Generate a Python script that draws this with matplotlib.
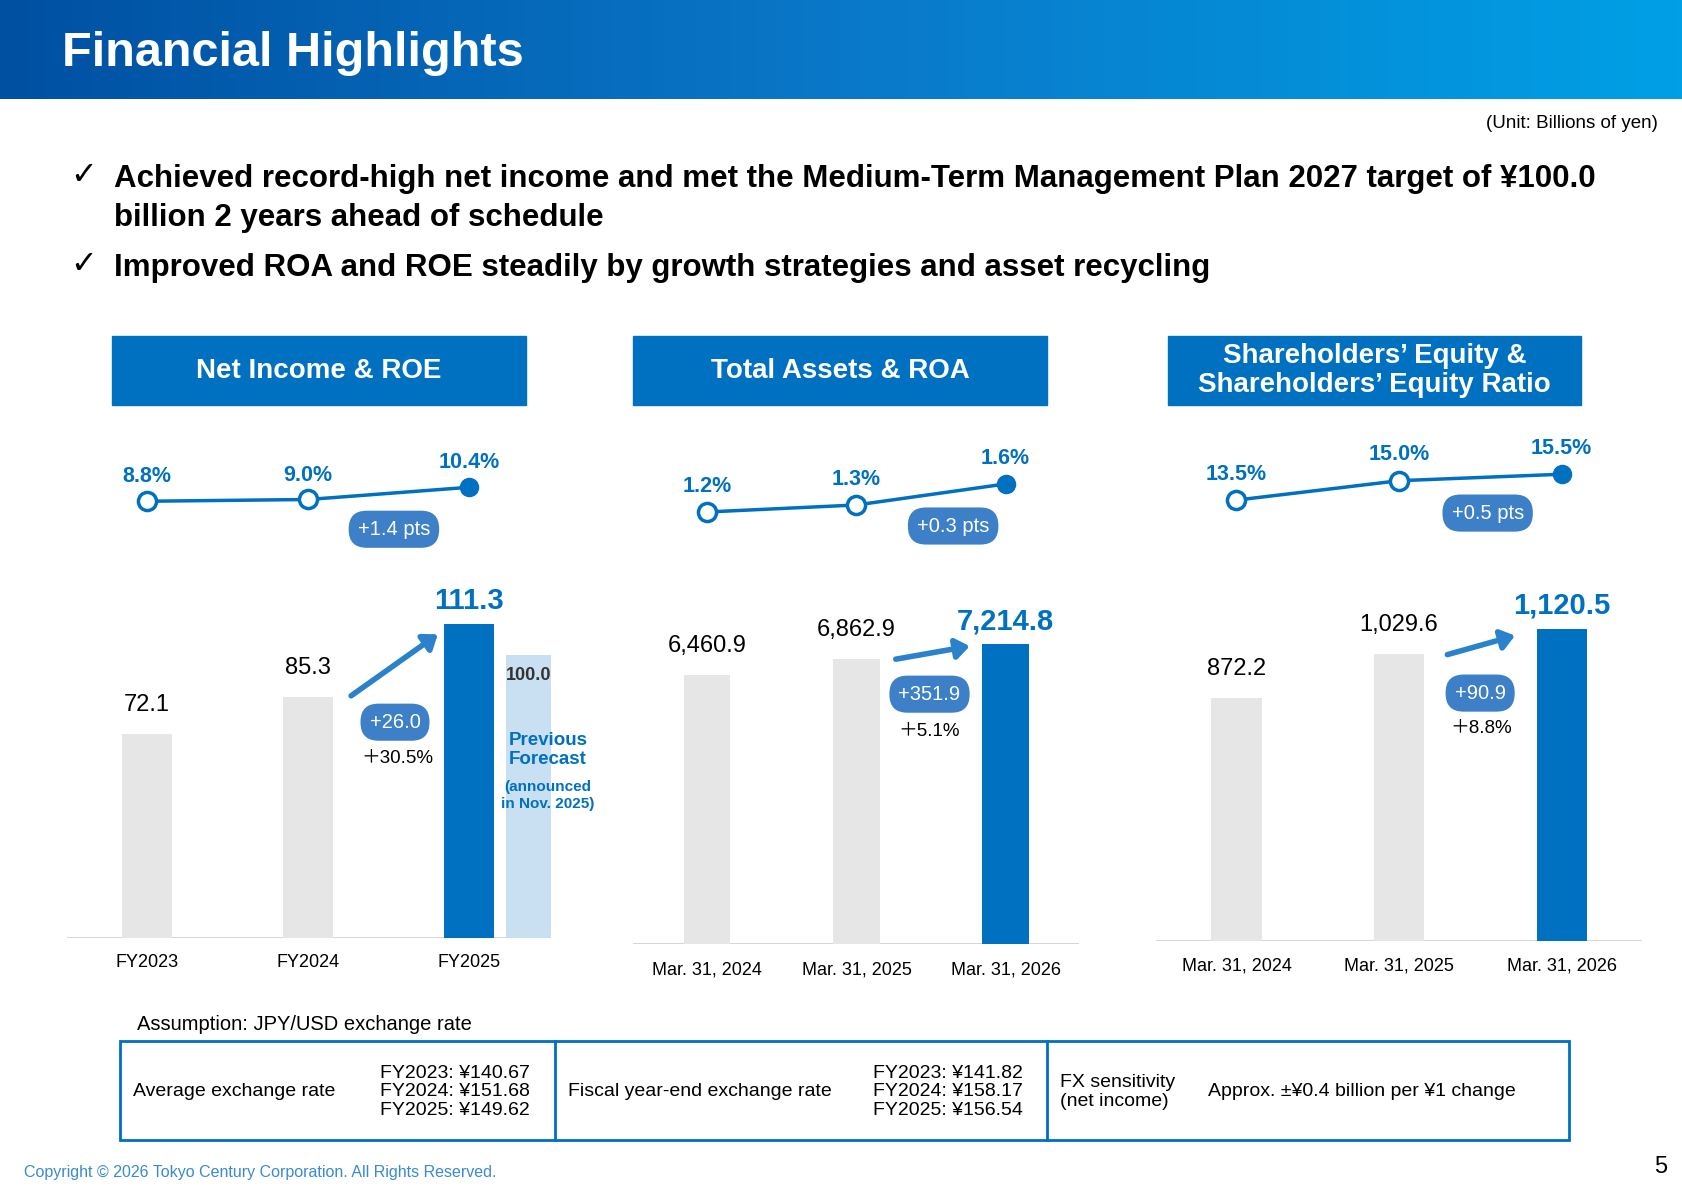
import numpy as np
import matplotlib
matplotlib.use('Agg')
import matplotlib.pyplot as plt
from matplotlib.patches import Rectangle, FancyArrowPatch

plt.rcParams['font.family'] = ['Liberation Sans', 'DejaVu Sans', 'Noto Sans CJK JP']

# data
ni_labels = ['FY2023', 'FY2024', 'FY2025']
ni_vals = [72.1, 85.3, 111.3]
ni_forecast = 100.0
roe = [8.8, 9.0, 10.4]

ta_labels = ['Mar. 31, 2024', 'Mar. 31, 2025', 'Mar. 31, 2026']
ta_vals = [6460.9, 6862.9, 7214.8]
roa = [1.2, 1.3, 1.6]

se_labels = ['Mar. 31, 2024', 'Mar. 31, 2025', 'Mar. 31, 2026']
se_vals = [872.2, 1029.6, 1120.5]
ser = [13.5, 15.0, 15.5]

W, H = 1568, 1104
BLUE = '#0070c0'
GREY = '#e6e6e6'
PILL = '#3d80c8'

fig = plt.figure(figsize=(16.83, 11.90), dpi=100)
bg = fig.add_axes([0, 0, 1, 1])
bg.axis('off')

# header gradient
grad = np.linspace(0, 1, 256).reshape(1, -1)
cmap = matplotlib.colors.LinearSegmentedColormap.from_list('h', ['#0050a2', '#0a78c8', '#00a0e6'])
bg.imshow(grad, extent=[0, W, 92, 0], aspect='auto', cmap=cmap, zorder=0)
bg.set_xlim(0, W)
bg.set_ylim(H, 0)
bg.text(58, 50, 'Financial Highlights', color='white', fontsize=35, fontweight='bold', va='center')
bg.text(1545, 115, '(Unit: Billions of yen)', fontsize=13.5, ha='right', va='center')

bg.text(65, 163, '✓', fontsize=23, va='center', family='DejaVu Sans')
bg.text(106, 166, 'Achieved record-high net income and met the Medium-Term Management Plan 2027 target of ¥100.0',
        fontsize=22.5, fontweight='bold', va='center')
bg.text(106, 202, 'billion 2 years ahead of schedule', fontsize=22.5, fontweight='bold', va='center')
bg.text(65, 245, '✓', fontsize=23, va='center', family='DejaVu Sans')
bg.text(106, 249, 'Improved ROA and ROE steadily by growth strategies and asset recycling',
        fontsize=22.5, fontweight='bold', va='center')


def px_axes(x0, x1, y_top, y_bot):
    return fig.add_axes([x0 / W, 1 - y_bot / H, (x1 - x0) / W, (y_bot - y_top) / H])


def title_box(x0, x1, y0, y1, text):
    bg.add_patch(Rectangle((x0, y0), x1 - x0, y1 - y0, color=BLUE, zorder=2))
    bg.text((x0 + x1) / 2, (y0 + y1) / 2, text, color='white', fontsize=20, fontweight='bold',
            ha='center', va='center', zorder=3, linespacing=1.15)


def pill(x, y, text):
    bg.text(x, y, text, color='white', fontsize=14.5, ha='center', va='center', zorder=6,
            bbox=dict(boxstyle='round,pad=0.45,rounding_size=0.9', fc=PILL, ec='none'))


def panel(x0, x1, base, top, xlim, ylim, vals, labels, valfmt, ly, lylim, lvals, loff):
    ax = px_axes(x0, x1, top, base)
    ax.set_xlim(*xlim)
    ax.set_ylim(*ylim)
    ax.axis('off')
    cols = [GREY, GREY, BLUE]
    ax.bar(range(3), vals, width=0.31, color=cols, zorder=2)
    for i, v in enumerate(vals):
        if i < 2:
            ax.text(i, v + ylim[1] * 0.05, valfmt.format(v), ha='center', va='bottom', fontsize=17)
        else:
            ax.text(i, v + ylim[1] * 0.025, valfmt.format(v), ha='center', va='bottom', fontsize=21,
                    color=BLUE, fontweight='bold')
    for i, l in enumerate(labels):
        ax.text(i, -ylim[1] * 0.07, l, ha='center', va='center', fontsize=13)
    la = px_axes(x0, x1, ly[0], ly[1])
    la.set_xlim(*xlim)
    la.set_ylim(*lylim)
    la.axis('off')
    la.plot(range(3), lvals, color=BLUE, lw=2.5, zorder=2)
    la.scatter([0, 1], lvals[:2], s=170, facecolor='white', edgecolor=BLUE, lw=2.5, zorder=3)
    la.scatter([2], lvals[2:], s=170, color=BLUE, zorder=3)
    for i, v in enumerate(lvals):
        la.text(i, v + loff, f'{v:.1f}%', ha='center', va='bottom', fontsize=15.5,
                fontweight='bold', color=BLUE, clip_on=False)
    return ax, la


# panel 1
title_box(104, 490, 312, 376, 'Net Income & ROE')
ax1, la1 = panel(62, 515, 870, 540, (-0.5, 2.52), (0, 126), ni_vals, ni_labels, '{:.1f}',
                 (440, 480), (6.95, 11.89), roe, 1.6)
ax1.axhline(0, xmax=0.94, color='#d0d0d0', lw=1.2, zorder=1)
ax1.bar(2.37, ni_forecast, width=0.28, color='#c9e0f2', zorder=1)
ax1.text(2.37, ni_forecast - 4, f'{ni_forecast:.1f}', ha='center', va='top', fontsize=13,
         fontweight='bold', color='#333333', zorder=10)
ax1.text(2.49, 73, 'Previous\nForecast', ha='center', va='top', fontsize=13.5, fontweight='bold',
         color=BLUE, linespacing=1.2, zorder=10)
ax1.text(2.49, 56, '(announced\nin Nov. 2025)', ha='center', va='top', fontsize=11,
         fontweight='bold', color=BLUE, linespacing=1.3, zorder=10)

# panel 2
title_box(590, 975, 312, 376, 'Total Assets & ROA')
ax2, la2 = panel(590, 1005, 876, 540, (-0.496, 2.49), (0, 8705), ta_vals, ta_labels, '{:,.1f}',
                 (440, 485), (1.046, 1.738), roa, 0.22)
ax2.axhline(0, color='#d0d0d0', lw=1.2, zorder=1)

# panel 3
title_box(1088, 1473, 312, 376, 'Shareholders’ Equity &\nShareholders’ Equity Ratio')
ax3, la3 = panel(1077, 1530, 873, 540, (-0.495, 2.495), (0, 1287), se_vals, se_labels, '{:,.1f}',
                 (430, 475), (12.58, 16.33), ser, 1.2)
ax3.axhline(0, color='#d0d0d0', lw=1.2, zorder=1)

# growth arrows and pills
for (xa, ya, xb, yb) in [(325, 647, 410, 587), (832, 612, 906, 599), (1346, 608, 1414, 589)]:
    bg.add_patch(FancyArrowPatch((xa, ya), (xb, yb), arrowstyle='-|>,head_length=8,head_width=6',
                                 lw=4, color='#2a82cc', zorder=5))
pill(367, 491, '+1.4 pts')
pill(888, 488, '+0.3 pts')
pill(1386, 476, '+0.5 pts')
pill(368, 670, '+26.0')
bg.text(370, 704, '＋30.5%', ha='center', va='center', fontsize=13.5)
pill(866, 644, '+351.9')
bg.text(866, 679, '＋5.1%', ha='center', va='center', fontsize=13.5)
pill(1379, 643, '+90.9')
bg.text(1380, 676, '＋8.8%', ha='center', va='center', fontsize=13.5)

# exchange rate table
bg.text(128, 950, 'Assumption: JPY/USD exchange rate', fontsize=14.5, va='center')
bg.add_patch(Rectangle((112, 966), 1350, 92, fill=False, ec=BLUE, lw=2))
for xd in [517, 975]:
    bg.plot([xd, xd], [966, 1058], color=BLUE, lw=2)
bg.text(124, 1013, 'Average exchange rate', fontsize=14, va='center')
bg.text(494, 1013, 'FY2023: ¥140.67\nFY2024: ¥151.68\nFY2025: ¥149.62', fontsize=14,
        va='center', ha='right', linespacing=1.1)
bg.text(529, 1013, 'Fiscal year-end exchange rate', fontsize=14, va='center')
bg.text(953, 1013, 'FY2023: ¥141.82\nFY2024: ¥158.17\nFY2025: ¥156.54', fontsize=14,
        va='center', ha='right', linespacing=1.1)
bg.text(988, 1013, 'FX sensitivity\n(net income)', fontsize=14, va='center', linespacing=1.15)
bg.text(1125, 1013, 'Approx. ±¥0.4 billion per ¥1 change', fontsize=14, va='center')

bg.text(22, 1088, 'Copyright © 2026 Tokyo Century Corporation. All Rights Reserved.', fontsize=11.5,
        color='#3a8ad0', va='center')
bg.text(1553, 1083, '5', fontsize=17, ha='right', va='center')

fig.savefig('out.png', dpi=100)
